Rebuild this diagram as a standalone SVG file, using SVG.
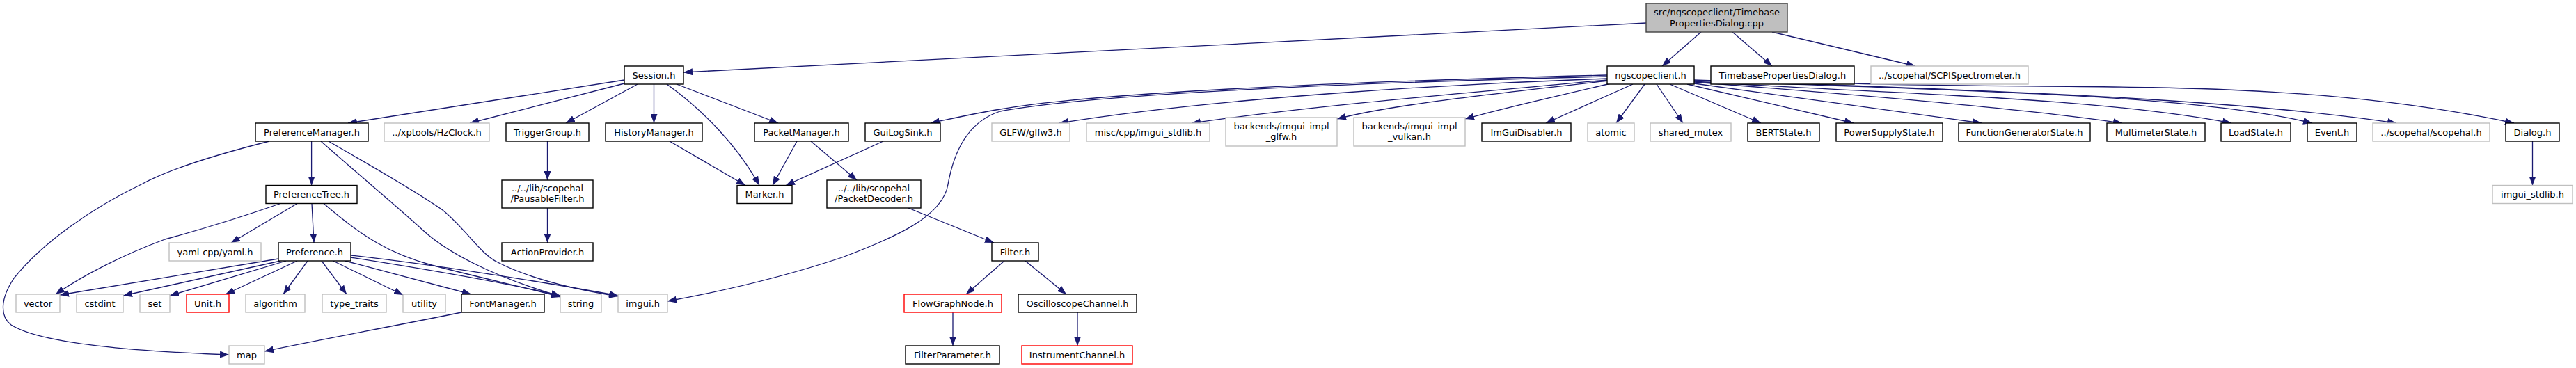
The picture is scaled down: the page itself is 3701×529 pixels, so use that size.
<svg xmlns="http://www.w3.org/2000/svg" width="3701" height="529" viewBox="0 0 3701 529">
<defs>
<marker id="ah" markerUnits="userSpaceOnUse" markerWidth="13" markerHeight="10" refX="13" refY="5" orient="auto" viewBox="0 0 13 10"><path d="M0,0 L13,5 L0,10 z" fill="#191970"/></marker>
<style>
rect{fill:#fff;stroke-width:1.4}
.n rect{stroke:#000}
.e rect{stroke:#bfbfbf}
.t rect{stroke:#ff0000}
.r rect{fill:#bfbfbf;stroke:#404040}
text{font-family:"DejaVu Sans","Liberation Sans",sans-serif;font-size:13px;fill:#000;text-anchor:middle}
#edges path{fill:none;stroke:#191970;stroke-width:1.3;marker-end:url(#ah)}
</style>
</defs>
<rect x="0" y="0" width="3701" height="529" style="fill:#fff;stroke:none"/>
<g id="edges">
<path d="M2365,33 L982,104"/>
<path d="M2444,46 L2388,95"/>
<path d="M2489,46 L2546,95"/>
<path d="M2546,46 L2752,95"/>
<path d="M897,115 L500,177"/>
<path d="M897,120 L675,177"/>
<path d="M916,121 L813,177"/>
<path d="M939.5,121 L939.5,177"/>
<path d="M958,121 C1010,158 1060,210 1091,266.5"/>
<path d="M972,121 L1118,177"/>
<path d="M786.5,203 L786.5,259"/>
<path d="M786.5,299 L786.5,349"/>
<path d="M962,203 L1071,266.5"/>
<path d="M1145,203 L1110,266.5"/>
<path d="M1165,203 L1231,259"/>
<path d="M1269,203 L1129,266.5"/>
<path d="M1305,299 L1428,349"/>
<path d="M1443,375 L1388,423"/>
<path d="M1473,375 L1532,423"/>
<path d="M1369,449 L1369,497"/>
<path d="M1548,449 L1548,497"/>
<path d="M3638.5,203 L3638.5,266.5"/>
<path d="M387,203 C300,225 240,245 205,264 C130,300 60,350 20,400 C0,430 0,455 16,467 C60,495 200,505 329,510"/>
<path d="M447.6,203 L447.6,266.5"/>
<path d="M461,203 C520,255 580,305 610,333 C640,360 700,395 805,426"/>
<path d="M472,203 C530,237 590,270 636,302 C670,330 690,365 715,377 C760,400 820,415 888,426"/>
<path d="M403,292.5 C330,318 270,335 237,344 C180,365 120,395 80,423"/>
<path d="M427,292.5 L332,349"/>
<path d="M448,292.5 L451,349"/>
<path d="M465,292.5 C520,340 560,365 620,381 C700,402 760,414 805,427"/>
<path d="M400,372 L86,424"/>
<path d="M403,375 L177,425"/>
<path d="M411,375 L244,425"/>
<path d="M427,375 L324,423"/>
<path d="M442,375 L407,423"/>
<path d="M462,375 L498,423"/>
<path d="M478.5,375 L579,424"/>
<path d="M496,375 L677,423"/>
<path d="M504,370 C600,385 720,405 805,425"/>
<path d="M504,367 C620,380 780,405 888,425"/>
<path d="M663,449 C560,470 460,488 380,505"/>
<path d="M2309,108 C1900,118 1560,135 1437,157 C1400,163 1370,170 1337,177"/>
<path d="M2309,110 C1900,120 1560,137 1437,160 C1390,175 1370,220 1362,265 C1355,310 1290,340 1210,370 C1120,400 1030,420 959,433"/>
<path d="M2309,113 C2100,120 1750,140 1522,177"/>
<path d="M2309,115 C2150,130 1900,150 1712,177"/>
<path d="M2310,116 C2150,135 2000,150 1921,171"/>
<path d="M2314,120 C2230,140 2160,155 2105,171"/>
<path d="M2346,121 L2221,177"/>
<path d="M2363,121 L2322,177"/>
<path d="M2380,121 L2418,177"/>
<path d="M2399,121 L2530,177"/>
<path d="M2424,121 L2663,177"/>
<path d="M2434,120 L2847,177"/>
<path d="M2434,118 C2650,135 2900,155 3049,177"/>
<path d="M2434,117 C2700,135 3000,138 3206,177"/>
<path d="M2434,116 C2800,130 3150,135 3322,177"/>
<path d="M2434,115 C2800,128 3200,140 3443,177"/>
<path d="M2664,120 C3000,130 3300,110 3612,177"/>
</g>
<g id="root" class="r"><rect x="2365" y="5" width="203" height="41"/><text x="2466.5" y="22">src/ngscopeclient/Timebase</text><text x="2466.5" y="37.5">PropertiesDialog.cpp</text></g>
<g id="session" class="n"><rect x="897" y="95" width="85" height="26"/><text x="939.5" y="112.6">Session.h</text></g>
<g id="ngscopeclient" class="n"><rect x="2309" y="95" width="125" height="26"/><text x="2371.5" y="112.6">ngscopeclient.h</text></g>
<g id="tpdh" class="n"><rect x="2458" y="95" width="206" height="26"/><text x="2561" y="112.6">TimebasePropertiesDialog.h</text></g>
<g id="scpispec" class="e"><rect x="2688" y="95" width="226" height="26"/><text x="2801" y="112.6">../scopehal/SCPISpectrometer.h</text></g>
<g id="prefmgr" class="n"><rect x="367" y="177" width="162" height="26"/><text x="448" y="194.6">PreferenceManager.h</text></g>
<g id="hzclock" class="e"><rect x="552" y="177" width="151" height="26"/><text x="627.5" y="194.6">../xptools/HzClock.h</text></g>
<g id="triggergroup" class="n"><rect x="727" y="177" width="119" height="26"/><text x="786.5" y="194.6">TriggerGroup.h</text></g>
<g id="historymgr" class="n"><rect x="870" y="177" width="139" height="26"/><text x="939.5" y="194.6">HistoryManager.h</text></g>
<g id="packetmgr" class="n"><rect x="1084" y="177" width="135" height="26"/><text x="1151.5" y="194.6">PacketManager.h</text></g>
<g id="guilogsink" class="n"><rect x="1243" y="177" width="108" height="26"/><text x="1297" y="194.6">GuiLogSink.h</text></g>
<g id="glfw3" class="e"><rect x="1425" y="177" width="112" height="26"/><text x="1481" y="194.6">GLFW/glfw3.h</text></g>
<g id="miscstdlib" class="e"><rect x="1561" y="177" width="177" height="26"/><text x="1649.5" y="194.6">misc/cpp/imgui_stdlib.h</text></g>
<g id="bglfw" class="e"><rect x="1761" y="169" width="160" height="41"/><text x="1841" y="186.3">backends/imgui_impl</text><text x="1841" y="201.3">_glfw.h</text></g>
<g id="bvulkan" class="e"><rect x="1945" y="169" width="160" height="41"/><text x="2025" y="186.3">backends/imgui_impl</text><text x="2025" y="201.3">_vulkan.h</text></g>
<g id="imguidisabler" class="n"><rect x="2129" y="177" width="128" height="26"/><text x="2193" y="194.6">ImGuiDisabler.h</text></g>
<g id="atomic" class="e"><rect x="2281" y="177" width="67" height="26"/><text x="2314.5" y="194.6">atomic</text></g>
<g id="sharedmutex" class="e"><rect x="2371" y="177" width="116" height="26"/><text x="2429" y="194.6">shared_mutex</text></g>
<g id="bertstate" class="n"><rect x="2511" y="177" width="103" height="26"/><text x="2562.5" y="194.6">BERTState.h</text></g>
<g id="powersupply" class="n"><rect x="2638" y="177" width="153" height="26"/><text x="2714.5" y="194.6">PowerSupplyState.h</text></g>
<g id="funcgen" class="n"><rect x="2814" y="177" width="189" height="26"/><text x="2908.5" y="194.6">FunctionGeneratorState.h</text></g>
<g id="multimeter" class="n"><rect x="3027" y="177" width="141" height="26"/><text x="3097.5" y="194.6">MultimeterState.h</text></g>
<g id="loadstate" class="n"><rect x="3191" y="177" width="100" height="26"/><text x="3241" y="194.6">LoadState.h</text></g>
<g id="event" class="n"><rect x="3315" y="177" width="71" height="26"/><text x="3350.5" y="194.6">Event.h</text></g>
<g id="scopehal" class="e"><rect x="3409" y="177" width="168" height="26"/><text x="3493" y="194.6">../scopehal/scopehal.h</text></g>
<g id="dialog" class="n"><rect x="3600" y="177" width="77" height="26"/><text x="3638.5" y="194.6">Dialog.h</text></g>
<g id="preftree" class="n"><rect x="382" y="266.5" width="131" height="26"/><text x="447.5" y="284.1">PreferenceTree.h</text></g>
<g id="pausable" class="n"><rect x="721" y="259" width="131" height="40"/><text x="786.5" y="275.3">../../lib/scopehal</text><text x="786.5" y="290.3">/PausableFilter.h</text></g>
<g id="marker" class="n"><rect x="1059" y="266.5" width="79" height="26"/><text x="1098.5" y="284.1">Marker.h</text></g>
<g id="packetdecoder" class="n"><rect x="1188" y="259" width="135" height="40"/><text x="1255.5" y="275.3">../../lib/scopehal</text><text x="1255.5" y="290.3">/PacketDecoder.h</text></g>
<g id="imguistdlib" class="e"><rect x="3581" y="266.5" width="115" height="26"/><text x="3638.5" y="284.1">imgui_stdlib.h</text></g>
<g id="yaml" class="e"><rect x="243" y="349" width="132" height="26"/><text x="309" y="366.6">yaml-cpp/yaml.h</text></g>
<g id="preference" class="n"><rect x="400" y="349" width="104" height="26"/><text x="452" y="366.6">Preference.h</text></g>
<g id="actionprovider" class="n"><rect x="721" y="349" width="131" height="26"/><text x="786.5" y="366.6">ActionProvider.h</text></g>
<g id="filter" class="n"><rect x="1425" y="349" width="67" height="26"/><text x="1458.5" y="366.6">Filter.h</text></g>
<g id="vector" class="e"><rect x="23" y="423" width="63" height="26"/><text x="54.5" y="440.6">vector</text></g>
<g id="cstdint" class="e"><rect x="110" y="423" width="67" height="26"/><text x="143.5" y="440.6">cstdint</text></g>
<g id="set" class="e"><rect x="201" y="423" width="43" height="26"/><text x="222.5" y="440.6">set</text></g>
<g id="unit" class="t"><rect x="268" y="423" width="61" height="26"/><text x="298.5" y="440.6">Unit.h</text></g>
<g id="algorithm" class="e"><rect x="353" y="423" width="85" height="26"/><text x="395.5" y="440.6">algorithm</text></g>
<g id="typetraits" class="e"><rect x="463" y="423" width="92" height="26"/><text x="509" y="440.6">type_traits</text></g>
<g id="utility" class="e"><rect x="579" y="423" width="61" height="26"/><text x="609.5" y="440.6">utility</text></g>
<g id="fontmanager" class="n"><rect x="663" y="423" width="119" height="26"/><text x="722.5" y="440.6">FontManager.h</text></g>
<g id="string" class="e"><rect x="805" y="423" width="59" height="26"/><text x="834.5" y="440.6">string</text></g>
<g id="imgui" class="e"><rect x="888" y="423" width="71" height="26"/><text x="923.5" y="440.6">imgui.h</text></g>
<g id="flowgraphnode" class="t"><rect x="1299" y="423" width="140" height="26"/><text x="1369" y="440.6">FlowGraphNode.h</text></g>
<g id="oscchannel" class="n"><rect x="1463" y="423" width="170" height="26"/><text x="1548" y="440.6">OscilloscopeChannel.h</text></g>
<g id="map" class="e"><rect x="329" y="497" width="51" height="26"/><text x="354.5" y="514.6">map</text></g>
<g id="filterparameter" class="n"><rect x="1301" y="497" width="135" height="26"/><text x="1368.5" y="514.6">FilterParameter.h</text></g>
<g id="instrumentchannel" class="t"><rect x="1468" y="497" width="159" height="26"/><text x="1547.5" y="514.6">InstrumentChannel.h</text></g>
</svg>
